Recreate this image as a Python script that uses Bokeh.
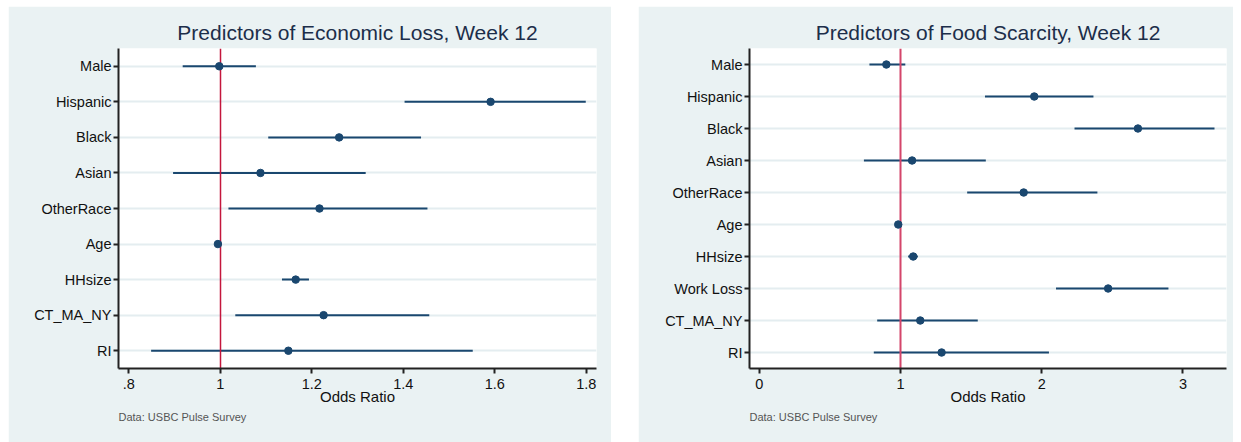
from bokeh.plotting import figure
from bokeh.layouts import row
from bokeh.models import Range1d, FixedTicker, CustomJSTickFormatter, Title
from bokeh.embed import file_html
from bokeh.resources import INLINE

# Odds ratios with 95% confidence bounds, week 12 models
econ_vars = ["Male", "Hispanic", "Black", "Asian", "OtherRace", "Age", "HHsize", "CT_MA_NY", "RI"]
econ_or = [0.998, 1.591, 1.260, 1.088, 1.217, 0.995, 1.165, 1.226, 1.149]
econ_lo = [0.918, 1.403, 1.105, 0.897, 1.018, 0.990, 1.135, 1.033, 0.849]
econ_hi = [1.078, 1.799, 1.439, 1.318, 1.453, 1.000, 1.194, 1.457, 1.552]
econ_ticks = [0.8, 1.0, 1.2, 1.4, 1.6, 1.8]

food_vars = ["Male", "Hispanic", "Black", "Asian", "OtherRace", "Age", "HHsize", "Work Loss", "CT_MA_NY", "RI"]
food_or = [0.900, 1.947, 2.681, 1.082, 1.872, 0.984, 1.090, 2.470, 1.140, 1.291]
food_lo = [0.780, 1.598, 2.232, 0.741, 1.472, 0.976, 1.054, 2.101, 0.835, 0.811]
food_hi = [1.034, 2.366, 3.223, 1.604, 2.394, 0.992, 1.123, 2.897, 1.547, 2.051]
food_ticks = [0, 1, 2, 3]

NAVY = "#1a476f"
PANEL = "#eaf2f3"
GRID = "#e4edf0"
FONT = "Liberation Sans"


def forest(title, names, ors, los, his, ticks, x_start, x_end, width,
           border_left, border_right, ref_color, ref_width):
    n = len(names)
    ypos = [n - i for i in range(n)]
    p = figure(width=width, height=436, output_backend="svg", toolbar_location=None,
               x_range=Range1d(x_start, x_end), y_range=Range1d(0.5, n + 0.5),
               min_border_left=border_left, min_border_right=border_right,
               min_border_top=42, min_border_bottom=74)
    p.border_fill_color = PANEL
    p.background_fill_color = "white"
    p.outline_line_color = None

    p.title.text = title
    p.title.align = "center"
    p.title.text_font = FONT
    p.title.text_font_size = "21px"
    p.title.text_font_style = "normal"
    p.title.text_color = "#1c2e4a"

    # confidence intervals, reference line at OR = 1, then point estimates
    p.segment(x0=los, y0=ypos, x1=his, y1=ypos, line_color=NAVY, line_width=2)
    p.vspan(x=[1.0], line_color=ref_color, line_width=ref_width)
    p.scatter(x=ors, y=ypos, marker="circle", size=7.5, fill_color=NAVY, line_color=NAVY)

    p.xgrid.visible = False
    p.ygrid.ticker = FixedTicker(ticks=ypos)
    p.ygrid.grid_line_color = GRID
    p.ygrid.grid_line_width = 2

    for ax in (p.xaxis[0], p.yaxis[0]):
        ax.axis_line_color = "#222222"
        ax.axis_line_width = 2
        ax.major_tick_line_color = "#222222"
        ax.major_tick_line_width = 2
        ax.major_tick_out = 5
        ax.major_tick_in = 0
        ax.minor_tick_line_color = None
        ax.major_label_text_font = FONT
        ax.major_label_text_font_size = "14.5px"
        ax.major_label_text_color = "#111111"

    p.yaxis.ticker = FixedTicker(ticks=ypos)
    p.yaxis.major_label_overrides = {y: name for y, name in zip(ypos, names)}
    p.yaxis.major_label_standoff = 2

    p.xaxis.ticker = FixedTicker(ticks=ticks)
    p.xaxis.formatter = CustomJSTickFormatter(
        code="const s = tick.toFixed(1).replace(/\\.0$/, ''); return s.replace(/^0\\./, '.');")
    p.xaxis.axis_label = "Odds Ratio"
    p.xaxis.axis_label_text_font = FONT
    p.xaxis.axis_label_text_font_size = "15px"
    p.xaxis.axis_label_text_font_style = "normal"
    p.xaxis.axis_label_text_color = "#111111"
    p.xaxis.axis_label_standoff = -4

    note = Title(text="Data: USBC Pulse Survey", align="left", text_font=FONT,
                 text_font_size="11px", text_font_style="normal", text_color="#555555",
                 standoff=2)
    p.add_layout(note, "below")
    return p


p1 = forest("Predictors of Economic Loss, Week 12", econ_vars, econ_or, econ_lo, econ_hi,
            econ_ticks, 0.7777, 1.8225, 603, 110, 15, "#c4163c", 1.5)
p2 = forest("Predictors of Food Scarcity, Week 12", food_vars, food_or, food_lo, food_hi,
            food_ticks, -0.069, 3.308, 595, 111, 7, "#d4456a", 2)

p1.margin = (6, 0, 0, 8)
p2.margin = (6, 0, 0, 27)

layout = row(p1, p2)
open("out.html", "w").write(file_html(layout, INLINE))
